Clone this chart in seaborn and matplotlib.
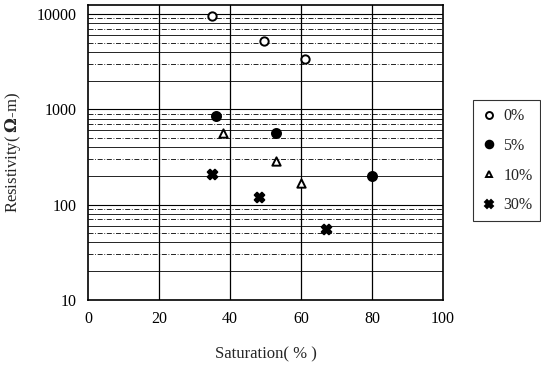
import matplotlib
matplotlib.use("Agg")
import matplotlib.pyplot as plt
import seaborn as sns
import pandas as pd
import numpy as np
from matplotlib.ticker import FixedLocator, NullFormatter

# Data
series = ["0%", "5%", "10%", "30%"]
sat_0 = [35, 49.5, 61]
res_0 = [9500, 5200, 3400]
sat_5 = [36, 53, 80]
res_5 = [850, 560, 200]
sat_10 = [38, 53, 60]
res_10 = [560, 290, 170]
sat_30 = [35, 48, 67]
res_30 = [210, 120, 55]
x_ticks = [0, 20, 40, 60, 80, 100]
y_ticks = [10, 100, 1000, 10000]

rows = []
for name, xs, ys in zip(series, [sat_0, sat_5, sat_10, sat_30], [res_0, res_5, res_10, res_30]):
    for x, y in zip(xs, ys):
        rows.append({"Saturation": x, "Resistivity": y, "series": name})
df = pd.DataFrame(rows)

sns.set_theme(style="white")
plt.rcParams["font.family"] = ["Liberation Serif", "DejaVu Serif"]
plt.rcParams["mathtext.fontset"] = "dejavuserif"

fig = plt.figure(figsize=(5.41, 3.72), dpi=100)
ax = fig.add_axes([0.163, 0.194, 0.656, 0.793])

markers = {"0%": "o", "5%": "o", "10%": "^", "30%": "X"}
sizes_pt = {"0%": 6.0, "5%": 6.5, "10%": 6.0, "30%": 7.0}
faces = {"0%": "white", "5%": "black", "10%": "white", "30%": "black"}

ax.set_yscale("log")
ax.set_xlim(0, 100)
ax.set_ylim(10, 12500)

# grid
for xv in [20, 40, 60, 80]:
    ax.axvline(xv, color="black", lw=0.9, zorder=1)
for dec in [10, 100, 1000, 10000]:
    for m in range(1, 10):
        v = dec * m
        if 10 < v <= 12500:
            ls = "-" if m == 1 else (0, (6, 2, 1, 2)) if m % 2 else "-"
            ax.axhline(v, color="black", lw=0.8 if m == 1 else 0.6, ls=ls, zorder=1)

handles = []
for name in series:
    sub = df[df["series"] == name]
    sns.scatterplot(data=sub, x="Saturation", y="Resistivity", ax=ax,
                    marker=markers[name], s=sizes_pt[name] ** 2,
                    facecolor=faces[name], edgecolor="black", linewidth=1.4,
                    zorder=3, legend=False)
    h = plt.Line2D([], [], ls="none", marker=markers[name], markersize=sizes_pt[name] - 1,
                   markerfacecolor=faces[name], markeredgecolor="black", markeredgewidth=1.4)
    handles.append(h)

ax.set_xticks(x_ticks)
ax.set_xticklabels([str(t) for t in x_ticks])
ax.yaxis.set_major_locator(FixedLocator(y_ticks))
ax.set_yticklabels([str(t) for t in y_ticks])
ax.yaxis.set_minor_formatter(NullFormatter())
ax.tick_params(axis="both", labelsize=11.5, colors="black", length=0, pad=8)
ax.tick_params(axis="y", which="minor", length=0)
for sp in ax.spines.values():
    sp.set_color("black")
    sp.set_linewidth(1.2)

ax.set_xlabel("Saturation( % )", fontsize=12, labelpad=14)
ax.set_ylabel("Resistivity( $\\mathbf{\\Omega}$-m)", fontsize=12, labelpad=10)

leg = fig.legend(handles, series, loc="upper left", bbox_to_anchor=(0.874, 0.73),
                 frameon=True, fancybox=False, edgecolor="black", fontsize=11.5,
                 handletextpad=0.4, handlelength=1.0, labelspacing=0.85,
                 borderpad=0.5, borderaxespad=0)
leg.get_frame().set_linewidth(0.8)

fig.savefig("out.png", dpi=100)
